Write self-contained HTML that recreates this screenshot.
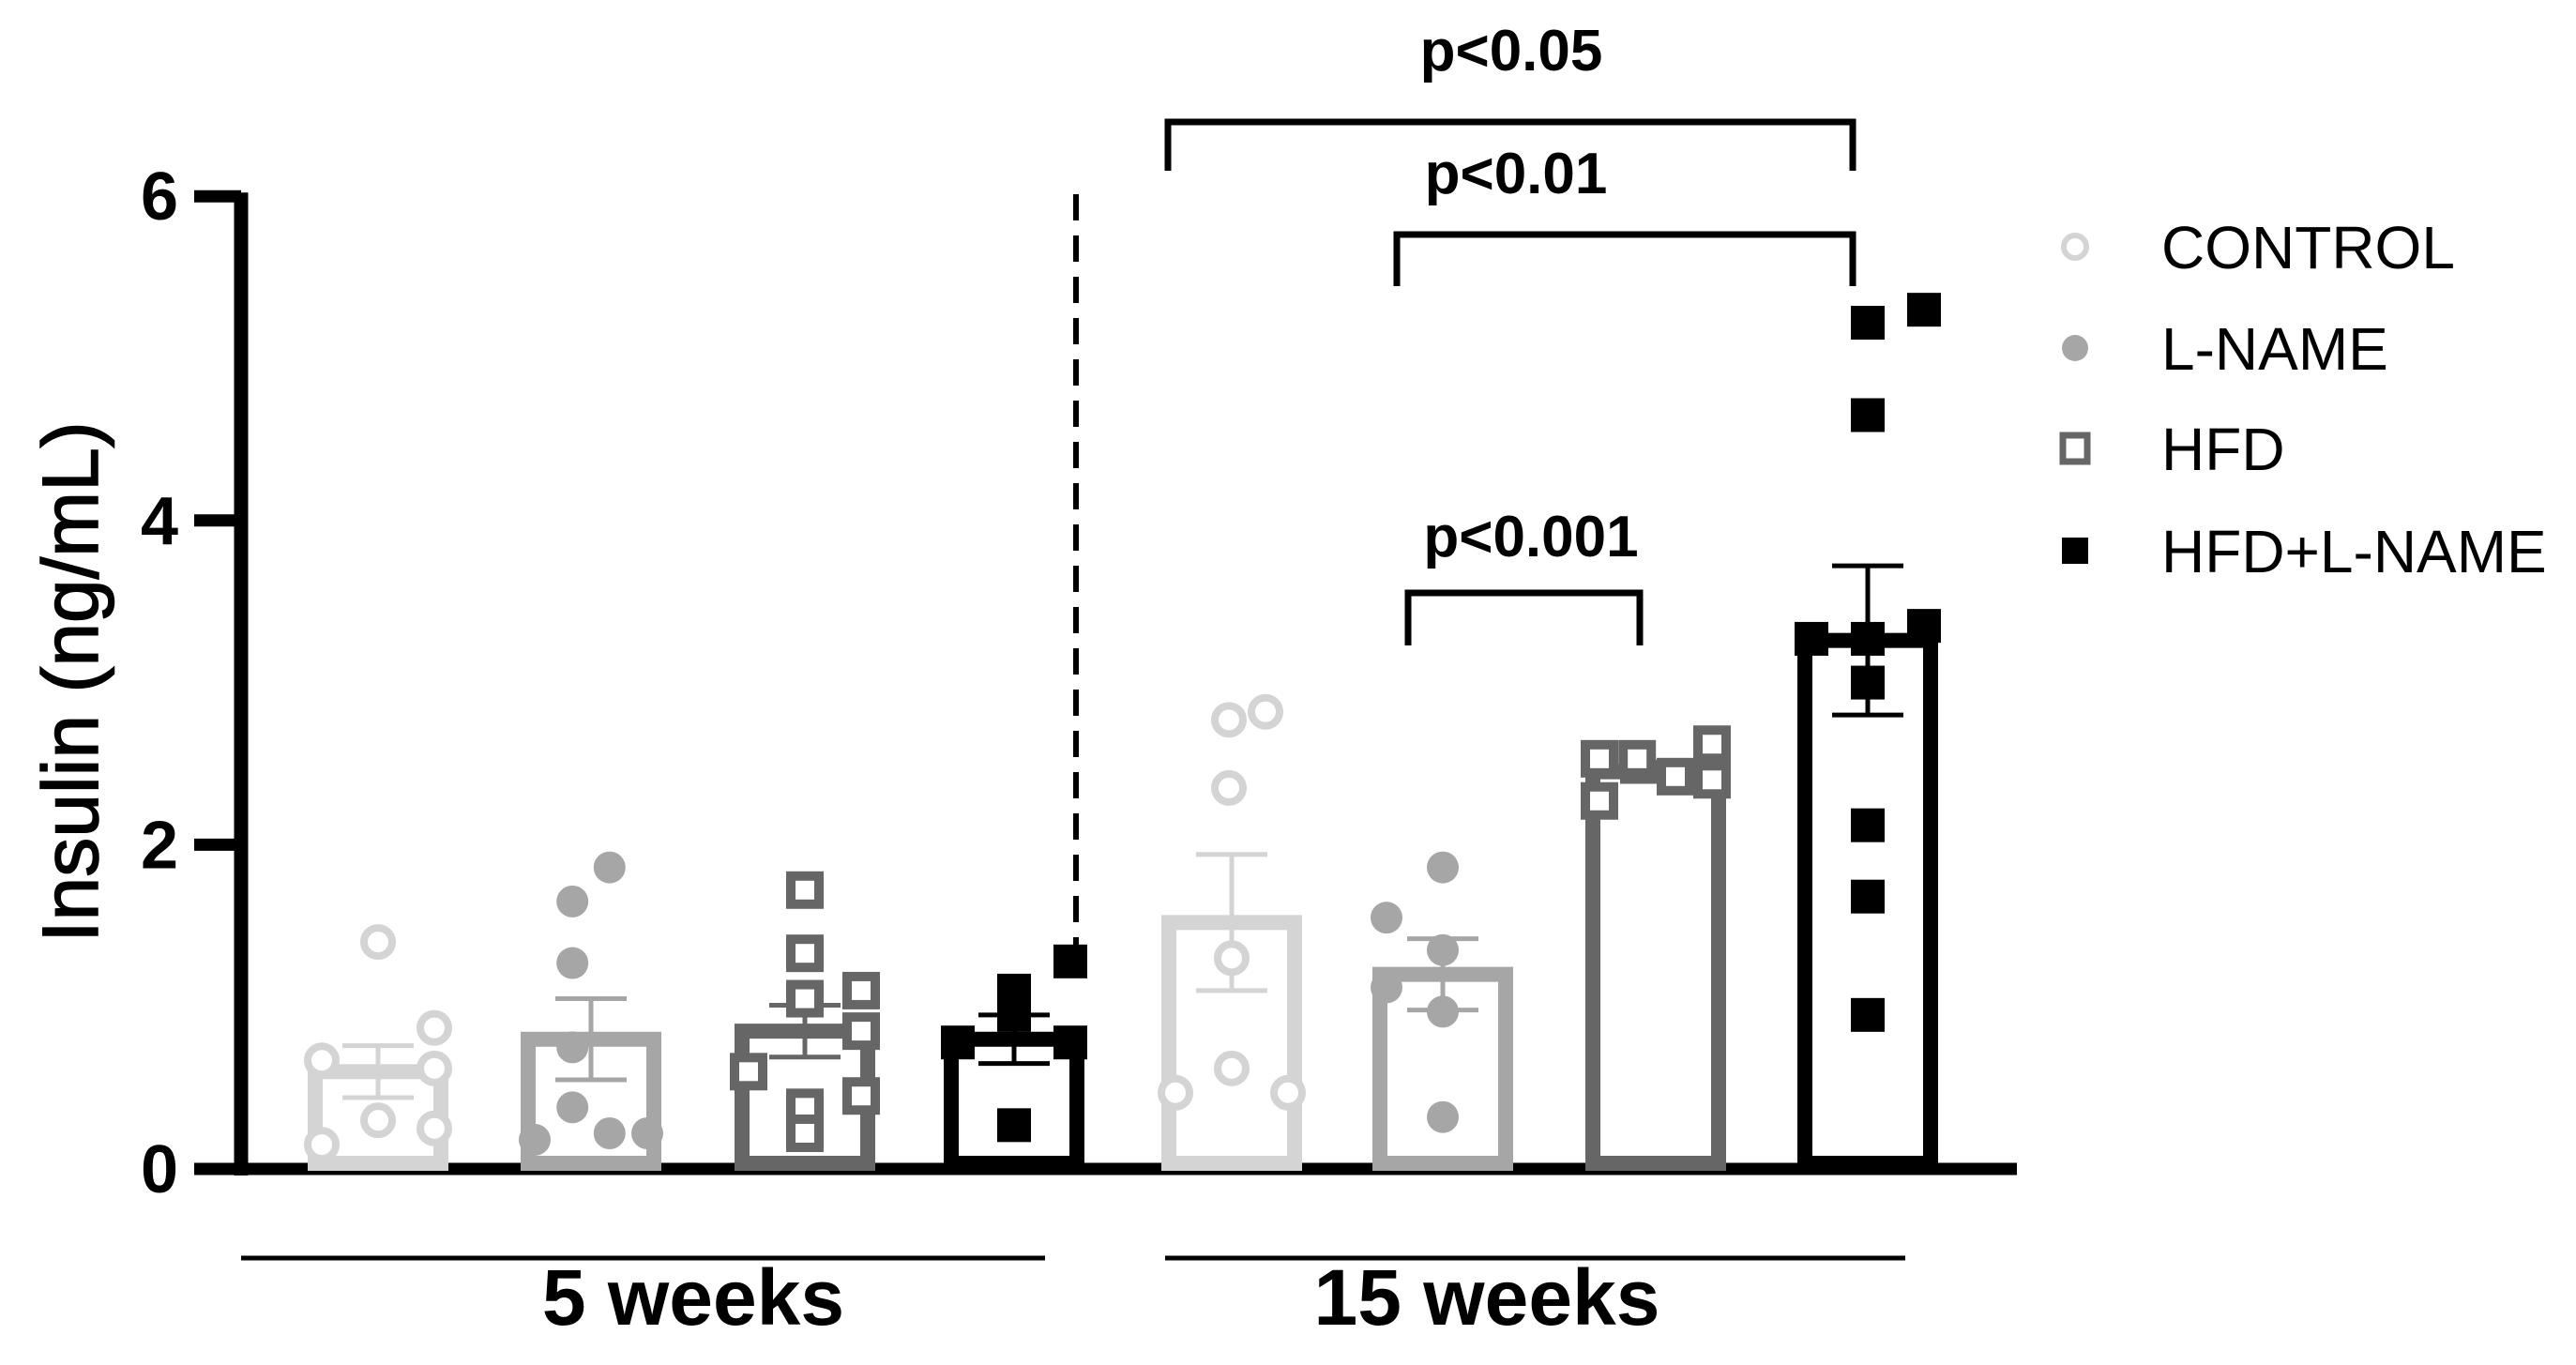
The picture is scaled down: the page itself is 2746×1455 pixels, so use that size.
<!DOCTYPE html>
<html><head><meta charset="utf-8"><style>
html,body{margin:0;padding:0;background:#fff;}
svg{display:block;font-family:"Liberation Sans",sans-serif;}
</style></head><body>
<svg id="chart" width="2746" height="1455" viewBox="0 0 2746 1455" xmlns="http://www.w3.org/2000/svg">
<g id="axes"></g>
<g id="bars"></g>
<g id="points"></g>
<g id="annot"></g>
<g id="legend"></g>
</svg>
<script>
const groups = ["CONTROL","L-NAME","HFD","HFD+L-NAME"];
const periods = ["5 weeks","15 weeks"];
const means5 = [0.6, 0.8, 0.85, 0.8];
const sem5 = [0.16, 0.25, 0.16, 0.15];
const means15 = [1.52, 1.2, 2.45, 3.26];
const sem15 = [0.42, 0.22, 0.06, 0.46];
const pts5_control = [1.4,0.87,0.67,0.62,0.3,0.15,0.25];
const off5_control = [0,1,-1,1,0,-1,1];
const pts5_lname = [1.86,1.65,1.27,0.75,0.38,0.18,0.22,0.22];
const off5_lname = [0.33,-0.33,-0.33,-0.33,-0.33,-1,0.33,1];
const pts5_hfd = [1.72,1.33,1.05,1.1,0.85,0.6,0.45,0.38,0.22];
const off5_hfd = [0,0,0,1,1,-1,1,0,0];
const pts5_hfdln = [1.1,0.95,1.28,0.78,0.78,0.27];
const off5_hfdln = [0,0,1,-1,1,0];
const pts15_control = [2.77,2.82,2.35,1.3,0.62,0.47,0.47];
const off15_control = [-0.05,0.6,-0.05,0,0,-1,1];
const pts15_lname = [1.86,1.55,1.35,1.12,0.97,0.32];
const off15_lname = [0,-1,0,-1,0,0];
const pts15_hfd = [2.53,2.27,2.53,2.42,2.62,2.4];
const off15_hfd = [-1,-1,-0.33,0.35,1,1];
const pts15_hfdln = [5.22,5.3,4.65,3.35,3.27,3.27,3.0,2.12,1.68,0.95];
const off15_hfdln = [0,1,0,1,0,-1,0,0,0,0];
const yTicks = [0,2,4,6];
const pLabels = ["p<0.05","p<0.01","p<0.001"];

const NS="http://www.w3.org/2000/svg";
const colors=["#d4d4d4","#a6a6a6","#666666","#000000"];
const X0=257, Y0=1246, PXU=172.8;
function y(v){return Y0-v*PXU;}
const centers5=[403,630,858,1081], centers15=[1313,1538,1765,1991];
function xBar(period,i){return period===0?centers5[i]:centers15[i];}
const BW=150, SW=16, OFF=60;
function el(tag,attrs,parent){const e=document.createElementNS(NS,tag);for(const k in attrs)e.setAttribute(k,attrs[k]);parent.appendChild(e);return e;}
const axes=document.getElementById('axes'),bars=document.getElementById('bars'),points=document.getElementById('points'),annot=document.getElementById('annot'),legend=document.getElementById('legend');

let a=el('line',{x1:X0,y1:y(6)-4,x2:X0,y2:Y0+7,stroke:'#000','stroke-width':15},axes);


a=el('line',{x1:207,y1:Y0,x2:2150,y2:Y0,stroke:'#000','stroke-width':13},axes);


yTicks.forEach(t=>{
  const l=el('line',{x1:207,y1:y(t),x2:X0,y2:y(t),stroke:'#000','stroke-width':13},axes);
  
  
  const tx=el('text',{x:170,y:y(t)+25,'text-anchor':'middle','font-size':72,'font-weight':'bold',fill:'#000'},axes);
  tx.textContent=t;
  
  
});
const yt=el('text',{x:0,y:0,transform:'translate(104,727) rotate(-90)','text-anchor':'middle','font-size':84,fill:'#000',stroke:'#000','stroke-width':1.5},axes);
yt.textContent="Insulin (ng/mL)";


const dl=el('line',{x1:1147,y1:207,x2:1147,y2:1035,stroke:'#000','stroke-width':6,'stroke-dasharray':'28,16'},axes);


[[257,1114],[1242,2031]].forEach((r,i)=>{
  const l=el('line',{x1:r[0],y1:1341,x2:r[1],y2:1341,stroke:'#000','stroke-width':5},axes);
  
  
});
[[739,periods[0]],[1585,periods[1]]].forEach(p=>{
  const t=el('text',{x:p[0],y:1412,'text-anchor':'middle','font-size':84,'font-weight':'bold',fill:'#000'},axes);
  t.textContent=p[1];
  
  
});

const meansAll=[means5,means15], semAll=[sem5,sem15];
const ptsAll=[[pts5_control,pts5_lname,pts5_hfd,pts5_hfdln],[pts15_control,pts15_lname,pts15_hfd,pts15_hfdln]];
const offAll=[[off5_control,off5_lname,off5_hfd,off5_hfdln],[off15_control,off15_lname,off15_hfd,off15_hfdln]];
for(let p=0;p<2;p++){for(let i=0;i<4;i++){
  const cx=xBar(p,i), m=meansAll[p][i], s=semAll[p][i], c=colors[i];
  const r=el('rect',{x:cx-BW/2+SW/2,y:y(m),width:BW-SW,height:Y0-6-y(m),fill:'none',stroke:c,'stroke-width':SW},bars);
  
  
  const e=el('path',{d:`M${cx},${y(m-s)}V${y(m+s)}M${cx-38},${y(m+s)}H${cx+38}M${cx-38},${y(m-s)}H${cx+38}`,stroke:c,'stroke-width':5,fill:'none'},bars);
  
  
  ptsAll[p][i].forEach((v,k)=>{
    const px=cx+offAll[p][i][k]*OFF, py=y(v);
    let mk;
    if(i===0) mk=el('circle',{cx:px,cy:py,r:15,fill:'#fff',stroke:c,'stroke-width':8},points);
    else if(i===1) mk=el('circle',{cx:px,cy:py,r:17,fill:c},points);
    else if(i===2) mk=el('rect',{x:px-15,y:py-15,width:30,height:30,fill:'#fff',stroke:c,'stroke-width':10},points);
    else mk=el('rect',{x:px-18,y:py-18,width:36,height:36,fill:'#000'},points);
    
    
  });
}}

const br=[[1245,1975,130,182,56,1611],[1489,1975,250,305,187,1616],[1501,1748,632,688,574,1632]];
br.forEach((b,i)=>{
  const pa=el('path',{d:`M${b[0]},${b[3]}V${b[2]}H${b[1]}V${b[3]}`,stroke:'#000','stroke-width':7,fill:'none'},annot);
  
  
  const t=el('text',{x:b[5],y:b[4]+19,'text-anchor':'middle','font-size':62,'font-weight':'bold',fill:'#000'},annot);
  t.textContent=pLabels[i];
  
  
});

const ly=[263,371,478,587];
groups.forEach((g,i)=>{
  const cx=2212, cy=ly[i]; let mk;
  if(i===0) mk=el('circle',{cx:cx,cy:cy,r:12,fill:'#fff',stroke:colors[0],'stroke-width':6},legend);
  else if(i===1) mk=el('circle',{cx:cx,cy:cy,r:14,fill:colors[1]},legend);
  else if(i===2) mk=el('rect',{x:cx-13,y:cy-14,width:26,height:28,fill:'#fff',stroke:colors[2],'stroke-width':7},legend);
  else mk=el('rect',{x:cx-14,y:cy-14,width:28,height:28,fill:'#000'},legend);
  
  
  const t=el('text',{x:2304,y:cy+23,'font-size':64,fill:'#000'},legend);
  t.textContent=g;
  
  
});
</script>
</body></html>
